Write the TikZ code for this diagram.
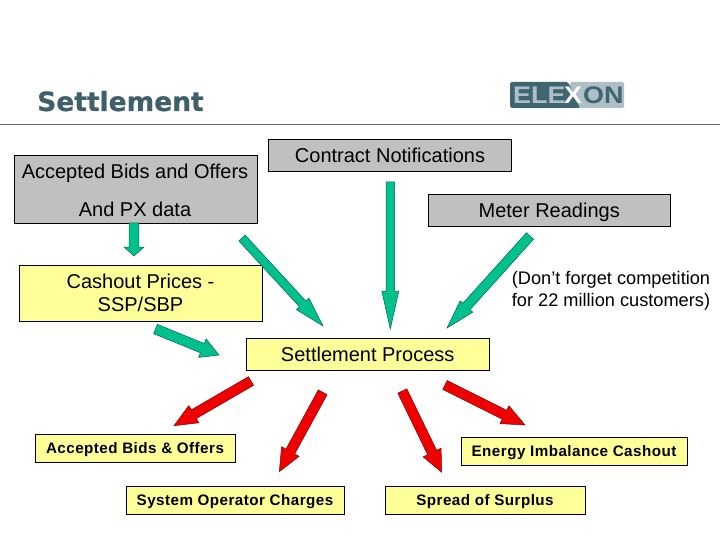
\documentclass[tikz,border=0pt]{standalone}
\usepackage{fontspec}
\setmainfont{Liberation Sans}
\newfontfamily\titlefont[FakeBold=0.6]{DejaVu Sans Bold}
\newfontfamily\spacedbold[LetterSpace=3.0]{Liberation Sans Bold}
\usetikzlibrary{calc}
\definecolor{boxgray}{HTML}{C0C0C0}
\definecolor{boxyellow}{HTML}{FFFF99}
\definecolor{arrowgreen}{HTML}{00C08E}
\definecolor{arrowgreenline}{HTML}{00664A}
\definecolor{arrowred}{HTML}{EE0000}
\definecolor{arrowredline}{HTML}{8A0000}
\definecolor{titleteal}{HTML}{3F5F6B}
\definecolor{logodark}{HTML}{3F6670}
\definecolor{logolight}{HTML}{AFBFC8}
\tikzset{
  base/.style={draw=black,line width=0.8pt,inner sep=0pt,align=center,font=\fontsize{20}{23.4}\selectfont},
  graybox/.style={base,fill=boxgray},
  yellowbox/.style={base,fill=boxyellow},
  smallbox/.style={draw=black,line width=0.8pt,inner sep=0pt,fill=boxyellow,text depth=1pt,font=\spacedbold\fontsize{15.2}{17}\selectfont},
  plaintext/.style={inner sep=0pt,align=center,font=\fontsize{20}{23.4}\selectfont},
  notetext/.style={inner sep=0pt,align=center,font=\fontsize{18.2}{22}\selectfont},
  logotext/.style={inner sep=0pt,anchor=base west,font=\bfseries\fontsize{24}{26}\selectfont},
  greenarrow/.style={fill=arrowgreen,draw=arrowgreenline,line width=0.5pt,line join=miter},
  redarrow/.style={fill=arrowred,draw=arrowredline,line width=0.5pt,line join=miter}
}
% style, tail, tip, half shaft, half head, head length
\newcommand{\blockarrow}[6]{%
  \coordinate (h) at ($(#3)!#6!(#2)$);
  \draw[#1] ($(#2)!#4!90:(#3)$) -- ($(h)!#4!90:(#3)$) -- ($(h)!#5!90:(#3)$) -- (#3)
    -- ($(h)!#5!-90:(#3)$) -- ($(h)!#4!-90:(#3)$) -- ($(#2)!#4!-90:(#3)$) -- cycle;
}
\begin{document}
\begin{tikzpicture}[x=1pt,y=-1pt]
\useasboundingbox (0,0) rectangle (720,540);
\fill[white] (0,0) rectangle (720,540);
% title and rule
\node[anchor=base west,inner sep=0pt,text=titleteal,font=\titlefont\fontsize{26.5}{30}\selectfont] (title) at (37,111) {Settlement};
\coordinate (ruleL) at (0,124);
\coordinate (ruleR) at (720,124);
\draw[color=black!60,line width=0.9pt] (ruleL) -- (ruleR);
% logo
\fill[logolight,rounded corners=1.5pt] (570,82) rectangle (624,108);
\fill[logodark,rounded corners=1.5pt] (510,82) -- (568,82) -- (580,108) -- (510,108) -- cycle;
\node[logotext,text=logolight] (logoA) at (513,104) {\scalebox{1.12}[1]{ELE}};
\node[logotext,text=white] (logoB) at (564,104) {\scalebox{1.12}[1]{X}};
\node[logotext,text=logodark] (logoC) at (583,104) {\scalebox{1.12}[1]{ON}};
% boxes
\node[graybox,minimum width=243pt,minimum height=68pt] (bids) at (135.5,189) {};
\node[plaintext] (bidsA) at (135,173) {Accepted Bids and Offers};
\node[plaintext] (bidsB) at (135,209) {And PX data};
\node[graybox,minimum width=242.5pt,minimum height=32pt] (contract) at (390,155) {Contract Notifications};
\node[graybox,minimum width=242.5pt,minimum height=32pt,text depth=0pt] (meter) at (549.2,210) {Meter Readings};
\node[yellowbox,minimum width=243pt,minimum height=56pt] (cashout) at (140.5,293) {Cashout Prices -\\SSP/SBP};
\node[notetext] (note) at (611,290.5) {(Don’t forget competition\\for 22 million customers)};
\node[yellowbox,minimum width=243.5pt,minimum height=32pt] (process) at (367.7,354) {Settlement Process};
\node[smallbox,minimum width=200pt,minimum height=28pt] (acc) at (135,448) {Accepted Bids \& Offers};
\node[smallbox,minimum width=218pt,minimum height=28pt] (soc) at (235,500) {System Operator Charges};
\node[smallbox,minimum width=226pt,minimum height=28pt] (eic) at (574,451) {Energy Imbalance Cashout};
\node[smallbox,minimum width=200pt,minimum height=28pt] (spread) at (485,500) {Spread of Surplus};
% arrows
\coordinate (t1) at (134,223); \coordinate (p1) at (134,256);
\coordinate (t2) at (242,238); \coordinate (p2) at (323,326);
\coordinate (t3) at (390.3,182); \coordinate (p3) at (390.3,329);
\coordinate (t4) at (530,236); \coordinate (p4) at (447,328);
\coordinate (t5) at (155.5,329); \coordinate (p5) at (219,355);
\coordinate (t6) at (251,381); \coordinate (p6) at (174,425.7);
\coordinate (t7) at (322.7,392.3); \coordinate (p7) at (279.3,471.7);
\coordinate (t8) at (402.3,391); \coordinate (p8) at (441.7,472.3);
\coordinate (t9) at (445,385); \coordinate (p9) at (525,425);
\blockarrow{greenarrow}{t1}{p1}{4.8pt}{10pt}{9pt}
\blockarrow{greenarrow}{t2}{p2}{4.3pt}{8.5pt}{30pt}
\blockarrow{greenarrow}{t3}{p3}{4.3pt}{8.5pt}{38pt}
\blockarrow{greenarrow}{t4}{p4}{4.8pt}{8.5pt}{29pt}
\blockarrow{greenarrow}{t5}{p5}{5pt}{10pt}{18pt}
\blockarrow{redarrow}{t6}{p6}{5pt}{10pt}{23pt}
\blockarrow{redarrow}{t7}{p7}{5pt}{10pt}{23pt}
\blockarrow{redarrow}{t8}{p8}{5pt}{10pt}{22pt}
\blockarrow{redarrow}{t9}{p9}{5pt}{10pt}{23pt}
\end{tikzpicture}
\end{document}
